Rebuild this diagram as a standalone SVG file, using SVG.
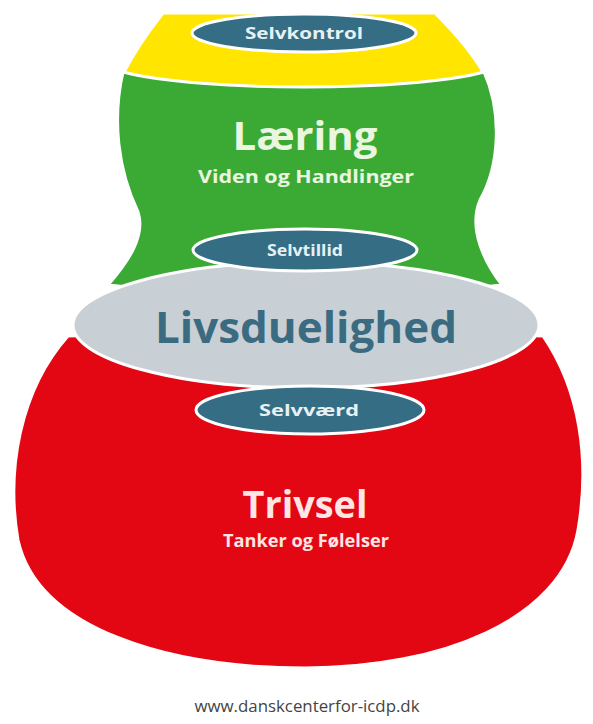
<svg xmlns="http://www.w3.org/2000/svg" width="593" height="724" viewBox="0 0 593 724">
<style>
.shape{stroke:#ffffff;stroke-width:3;stroke-linejoin:round}
.pill{fill:#356d84;stroke:#ffffff;stroke-width:3}
.pilltxt{font-family:"Open Sans","DejaVu Sans",sans-serif;font-weight:700;font-size:16px;fill:#e6f1f4;text-anchor:middle}
.big{font-family:"Open Sans","DejaVu Sans",sans-serif;font-weight:700;text-anchor:middle}
.sub{font-family:"Open Sans","DejaVu Sans",sans-serif;font-weight:700;font-size:17px;text-anchor:middle}
</style>
<rect x="0" y="0" width="593" height="724" fill="#ffffff"/>
<g id="yellow">
<path class="shape" fill="#ffe500" d="M163,13 L435,13 C455,33 472,52 484,74 L484,100 L123,100 L123,74 C135,50 148,32 163,13 Z"/>
</g>
<g id="laering">
<path class="shape" fill="#3aaa35" d="M123,72 C200,92 410,92 484,72 C502,112 500,165 480,200 C468,228 484,262 502,285 L305,305 L108,285 C128,262 146,236 138,212 C118,170 112,120 123,72 Z"/>
<text class="big" x="305" y="150" font-size="40" fill="#eaf6e0" textLength="145" lengthAdjust="spacingAndGlyphs">Læring</text>
<text class="sub" x="306" y="183" fill="#eaf6e0" textLength="216" lengthAdjust="spacingAndGlyphs">Viden og Handlinger</text>
</g>
<g id="trivsel">
<path class="shape" fill="#e30613" d="M68,336 C20,390 6,470 18,540 C38,630 170,668 305,668 C440,668 562,620 578,530 C590,460 580,390 543,336 L305,330 Z"/>
<text class="big" x="305" y="518" font-size="38" fill="#fde6e4" textLength="125" lengthAdjust="spacingAndGlyphs">Trivsel</text>
<text class="sub" x="306" y="547" font-size="16" fill="#fde6e4" textLength="166" lengthAdjust="spacingAndGlyphs">Tanker og Følelser</text>
</g>
<g id="livsduelighed">
<ellipse class="shape" fill="#c9d0d5" cx="306" cy="325" rx="233" ry="63"/>
<text class="big" x="306" y="343" font-size="43" fill="#3b6b80" textLength="302" lengthAdjust="spacingAndGlyphs">Livsduelighed</text>
</g>
<g id="selvkontrol">
<ellipse class="pill" cx="304" cy="33" rx="112" ry="19"/>
<text class="pilltxt" x="304" y="39" textLength="118" lengthAdjust="spacingAndGlyphs">Selvkontrol</text>
</g>
<g id="selvtillid">
<ellipse class="pill" cx="305" cy="250" rx="112" ry="21"/>
<text class="pilltxt" x="305" y="256" textLength="76" lengthAdjust="spacingAndGlyphs">Selvtillid</text>
</g>
<g id="selvvaerd">
<ellipse class="pill" cx="310" cy="410" rx="114" ry="24"/>
<text class="pilltxt" x="309" y="416" textLength="100" lengthAdjust="spacingAndGlyphs">Selvværd</text>
</g>
<g id="connectors"></g>
<text x="307" y="712" font-family="'Open Sans','DejaVu Sans',sans-serif" font-size="16" fill="#444444" text-anchor="middle" textLength="225" lengthAdjust="spacingAndGlyphs">www.danskcenterfor-icdp.dk</text>
</svg>
